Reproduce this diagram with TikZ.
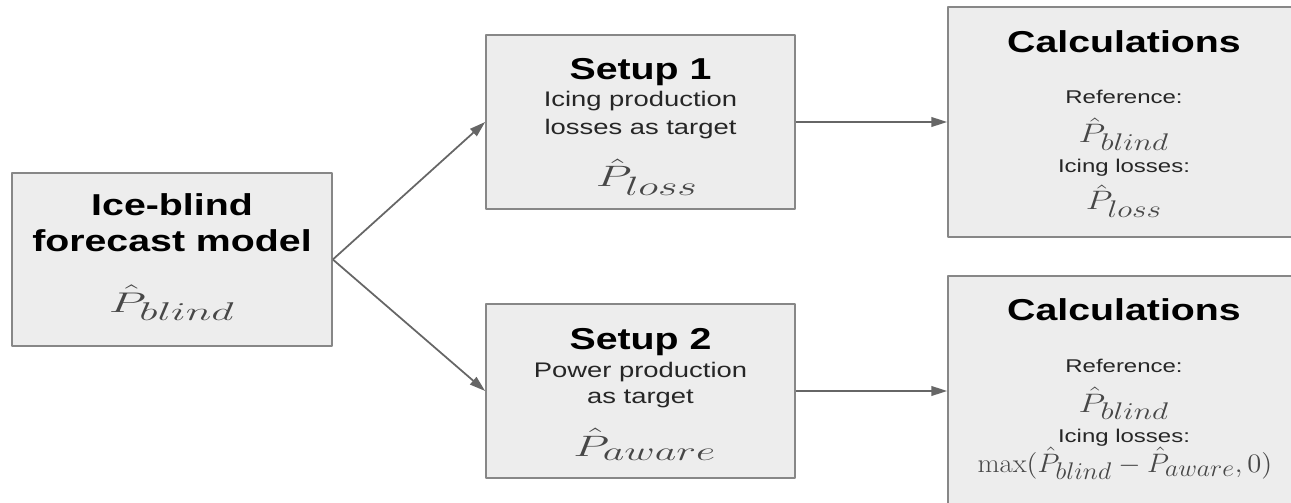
\RequirePackage{fix-cm}
\documentclass[tikz,border=0pt]{standalone}
\usepackage{fontspec}
\newfontfamily\arialfont{Liberation Sans}
\usetikzlibrary{arrows.meta}
\DeclareMathSizes{16.2}{16.2}{14.6}{11}
\DeclareMathSizes{16.8}{16.8}{15.1}{11}
\DeclareMathSizes{15.2}{15.2}{13.7}{10}
\newcommand\titlefont{\arialfont\bfseries\fontsize{17.2}{20}\selectfont}
\newcommand\subfont{\arialfont\fontsize{12}{14}\selectfont}
\newcommand\lblfont{\arialfont\fontsize{10.5}{12}\selectfont}
\tikzset{
  box/.style={draw=black!47, line width=1pt, fill=black!7, inner sep=0pt},
  txt/.style={anchor=base, inner sep=0pt, xscale=1.3, transform shape},
  ttl/.style={txt, font=\titlefont},
  sub/.style={txt, font=\subfont, text=black!85},
  lbl/.style={txt, font=\lblfont, text=black!85},
  eq/.style args={#1/#2}{anchor=base, inner sep=0pt, xscale=#2, transform shape,
    font=\fontsize{#1}{#1}\selectfont, text=black!72},
  arr/.style={->, draw=black!60, line width=1pt}
}
\begin{document}
\begin{tikzpicture}[x=0.02cm, y=-0.02cm, line join=round, >={Triangle[length=9pt,width=5.5pt]}]
	\useasboundingbox (0,0) rectangle (1291,503);
	% khung
	\node[box, minimum width=6.4cm, minimum height=3.46cm] (blind) at (172,259.5) {};
	\node[box, minimum width=6.18cm, minimum height=3.48cm] (setup1) at (640.5,122) {};
	\node[box, minimum width=6.18cm, minimum height=3.48cm] (setup2) at (640.5,391) {};
	\node[box, minimum width=7.04cm, minimum height=4.6cm] (calc1) at (1124,122) {};
	\node[box, minimum width=7.04cm, minimum height=4.6cm] (calc2) at (1124,391) {};
	% mo hinh
	\node[ttl] (blind-a) at (172,215) {Ice-blind};
	\node[ttl] (blind-b) at (172,252) {forecast model};
	\node[eq=16.2/1.7] (blind-p) at (172,312) {$\hat{P}_{blind}$};
	% setup 1, 2
	\node[ttl] (setup1-a) at (640.5,80) {Setup 1};
	\node[sub] (setup1-b) at (640.5,107) {Icing production};
	\node[sub] (setup1-c) at (640.5,135) {losses as target};
	\node[eq=16.8/1.58] (setup1-p) at (647,187) {$\hat{P}_{loss}$};
	\node[ttl] (setup2-a) at (640.5,349) {Setup 2};
	\node[sub] (setup2-b) at (640.5,377) {Power production};
	\node[sub] (setup2-c) at (640.5,403) {as target};
	\node[eq=16.8/1.58] (setup2-p) at (645,456) {$\hat{P}_{aware}$};
	% tinh toan
	\node[ttl] (calc1-a) at (1124,53) {Calculations};
	\node[lbl] (calc1-b) at (1124,104) {Reference:};
	\node[eq=15.2/1.3] (calc1-c) at (1124,143) {$\hat{P}_{blind}$};
	\node[lbl] (calc1-d) at (1124,173) {Icing losses:};
	\node[eq=15.2/1.3] (calc1-e) at (1124,210) {$\hat{P}_{loss}$};
	\node[ttl] (calc2-a) at (1124,320) {Calculations};
	\node[lbl] (calc2-b) at (1124,372) {Reference:};
	\node[eq=15.2/1.3] (calc2-c) at (1124,412) {$\hat{P}_{blind}$};
	\node[lbl] (calc2-d) at (1124,442) {Icing losses:};
	\node[eq=15.2/1.07] (calc2-e) at (1125,472) {$\max(\hat{P}_{blind}-\hat{P}_{aware},0)$};
	% mui ten
	\draw[arr] (blind.east) -- (setup1.west);
	\draw[arr] (blind.east) -- (setup2.west);
	\draw[arr] (setup1) -- (calc1);
	\draw[arr] (setup2) -- (calc2);
\end{tikzpicture}
\end{document}
